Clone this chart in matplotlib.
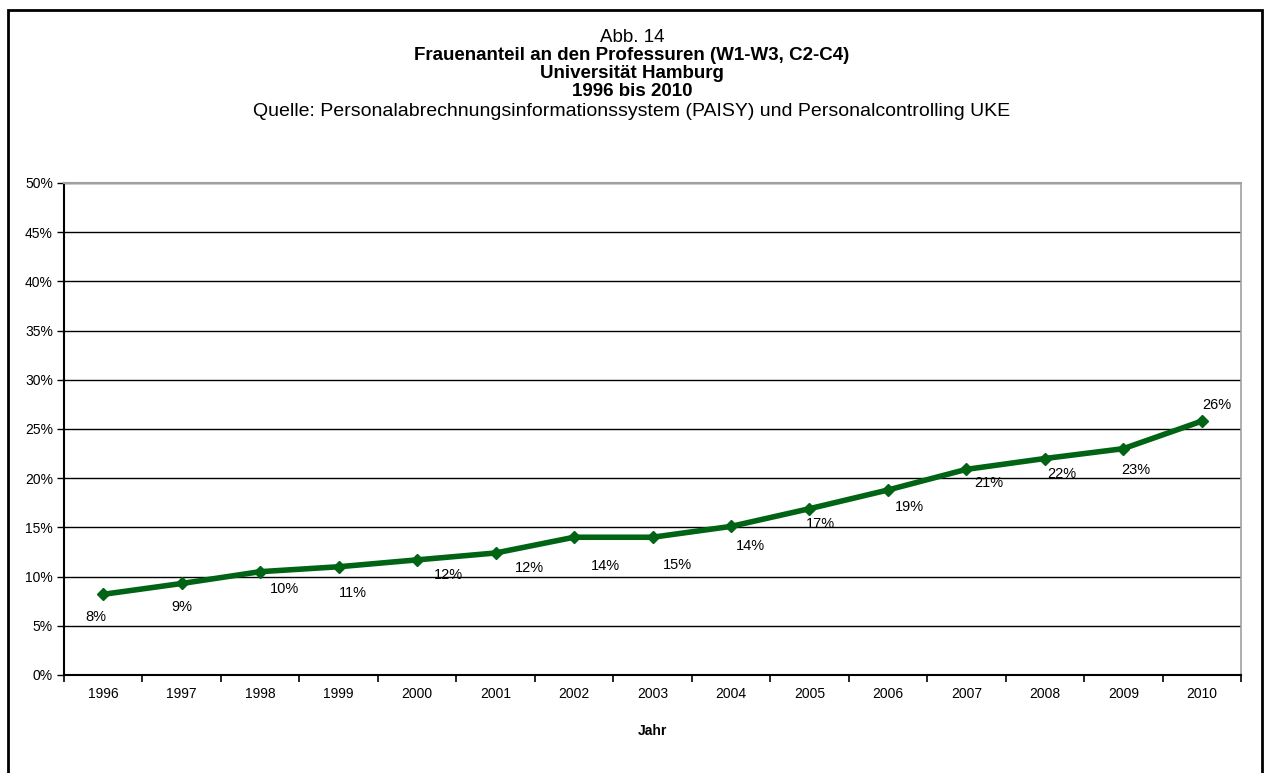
#! /usr/bin/env python3
import matplotlib
matplotlib.use("Agg")
import matplotlib.pyplot as plt
from matplotlib.patches import Rectangle
from matplotlib.ticker import FixedLocator, PercentFormatter

years = ["1996", "1997", "1998", "1999", "2000", "2001", "2002", "2003",
         "2004", "2005", "2006", "2007", "2008", "2009", "2010"]
share = [8.2, 9.3, 10.5, 11.0, 11.7, 12.4, 14.0, 14.0,
         15.1, 16.9, 18.8, 20.9, 22.0, 23.0, 25.8]
# labels as printed in the original (they don't always match the points)
labels = ["8%", "9%", "10%", "11%", "12%", "12%", "14%", "15%",
          "14%", "17%", "19%", "21%", "22%", "23%", "26%"]

# label offsets in pixels (dx right, dy down) relative to each point
label_dx = [-7, 0, 24, 14, 31, 34, 31, 25, 19, 11, 22, 22, 17, 13, 15]
label_dy = [23, 24, 17, 26, 15, 15, 29, 28, 20, 15, 17, 14, 15, 21, -16]

W, H = 1264, 773
plt.rcParams['font.family'] = ['Liberation Sans', 'DejaVu Sans']

fig = plt.figure(figsize=(W / 100, H / 100), dpi=100)

# outer chart frame
fig.patches.append(Rectangle((8 / W, -0.05), (1262 - 8) / W, 1.05 - 10 / H,
                             transform=fig.transFigure, fill=False,
                             edgecolor="black", linewidth=2))

# title block
fs = 13.5
fig.text(0.5, 1 - 37 / H, "Abb. 14", ha="center", va="center", fontsize=fs)
fig.text(0.5, 1 - 56 / H, "Frauenanteil an den Professuren (W1-W3, C2-C4)",
         ha="center", va="center", fontsize=fs, fontweight="bold")
fig.text(0.5, 1 - 74 / H, "Universität Hamburg",
         ha="center", va="center", fontsize=fs, fontweight="bold")
fig.text(0.5, 1 - 92 / H, "1996 bis 2010",
         ha="center", va="center", fontsize=fs, fontweight="bold")
fig.text(0.5, 1 - 111 / H,
         "Quelle: Personalabrechnungsinformationssystem (PAISY) und Personalcontrolling UKE",
         ha="center", va="center", fontsize=fs + 0.5)

left, right, top, bottom = 64, 1241, 183, 675
ax = fig.add_axes([left / W, 1 - bottom / H, (right - left) / W, (bottom - top) / H])

x = list(range(len(years)))
ax.plot(x, share, color="#006414", linewidth=4, marker="D", markersize=6,
        zorder=3, solid_joinstyle="round")

for i in x:
    ax.annotate(labels[i], (x[i], share[i]), xytext=(label_dx[i], -label_dy[i]),
                textcoords="offset pixels", ha="center", va="center",
                fontsize=10.5, color="black", zorder=4)

ax.set_ylim(0, 50)
ax.set_xlim(-0.5, len(years) - 0.5)
ax.set_yticks(range(0, 51, 5))
ax.yaxis.set_major_formatter(PercentFormatter(decimals=0))
ax.yaxis.grid(True, color="black", linewidth=1)
ax.set_axisbelow(True)

ax.set_xticks(x)
ax.set_xticklabels(years)
ax.xaxis.set_minor_locator(FixedLocator([i - 0.5 for i in range(len(years) + 1)]))
ax.tick_params(axis="x", which="major", length=0, pad=9, labelsize=10)
ax.tick_params(axis="x", which="minor", length=5, width=1.2, direction="out")
ax.tick_params(axis="y", length=5, width=1, direction="out", labelsize=10, pad=3)

ax.set_xlabel("Jahr", fontsize=10, fontweight="bold", labelpad=16)

ax.spines["left"].set_linewidth(1.5)
ax.spines["bottom"].set_linewidth(1.5)
ax.spines["top"].set_color("#a0a0a0")
ax.spines["right"].set_color("#a0a0a0")
ax.spines["top"].set_linewidth(1.5)
ax.spines["right"].set_linewidth(1.2)

fig.savefig("out.png", dpi=100)
